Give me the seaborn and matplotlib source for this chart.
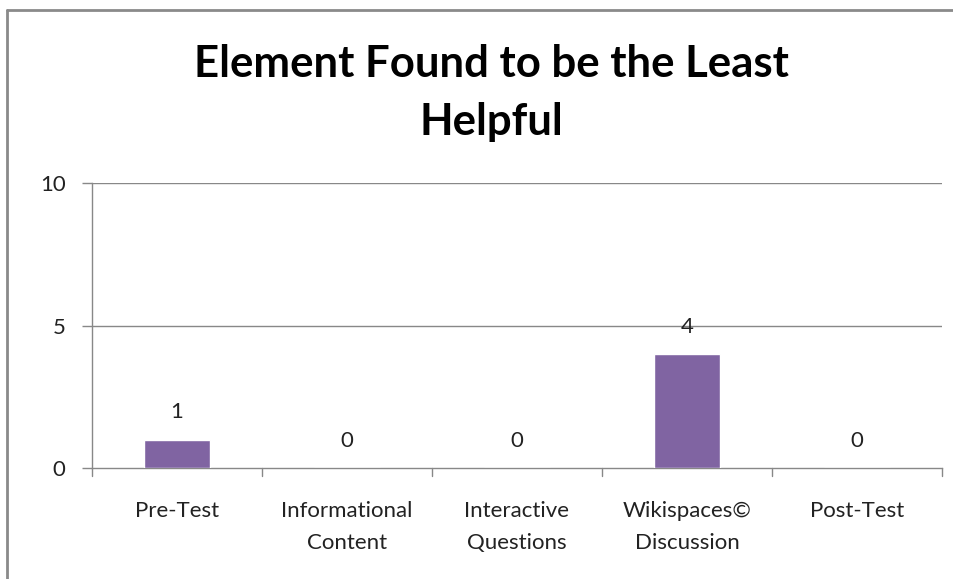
import matplotlib
matplotlib.use('Agg')
import matplotlib.pyplot as plt
import seaborn as sns
import pandas as pd
from matplotlib.lines import Line2D

categories = ['Pre-Test', 'Informational\nContent', 'Interactive\nQuestions',
              'Wikispaces©\nDiscussion', 'Post-Test']
counts = [1, 0, 0, 4, 0]
y_ticks = [0, 5, 10]

data = pd.DataFrame({'element': categories, 'count': counts})

sns.set_style('white')
plt.rcParams['font.family'] = ['Lato', 'DejaVu Sans']

fig = plt.figure(figsize=(9.54, 5.79), dpi=100)
ax = fig.add_axes([92 / 954, 1 - 468 / 579, 850 / 954, 285 / 579])

sns.barplot(x='element', y='count', data=data, color='#8064A2', width=0.39,
            saturation=1, ax=ax, edgecolor='white', linewidth=1, zorder=3)

ax.set_ylim(0, 10)
ax.set_xlim(-0.5, len(categories) - 0.5)
ax.set_yticks(y_ticks)
ax.set_yticklabels([str(t) for t in y_ticks], fontsize=16, color='#222222')
ax.set_xticks(range(len(categories)))
ax.set_xticklabels(categories, fontsize=16, color='#222222', linespacing=1.7)
ax.tick_params(axis='x', length=0, pad=24)
ax.tick_params(axis='y', length=7, color='#888888', width=1, pad=12, left=True)

# category boundary ticks
for b in [i - 0.5 for i in range(len(categories) + 1)]:
    ax.plot([b, b], [0, -0.28], color='#888888', lw=1, clip_on=False)

for t in y_ticks[1:]:
    ax.axhline(t, color='#888888', lw=1, zorder=1)

for s in ['top', 'right']:
    ax.spines[s].set_visible(False)
for s in ['left', 'bottom']:
    ax.spines[s].set_color('#888888')
    ax.spines[s].set_linewidth(1)
ax.set_xlabel('')
ax.set_ylabel('')

for i, v in enumerate(counts):
    ax.text(i, v + 0.95, str(v), ha='center', va='center', fontsize=16, color='#222222')

fig.text(491 / 954, 1 - 93 / 579, 'Element Found to be the Least\nHelpful',
         ha='center', va='center', fontsize=31.5, fontweight='bold',
         linespacing=1.55, color='black')

# outer chart frame (top and left only visible)
fig.add_artist(Line2D([7 / 954, 7 / 954], [0, 1 - 10 / 579], color='#8a8a8a', lw=2,
                      transform=fig.transFigure))
fig.add_artist(Line2D([7 / 954, 1], [1 - 10 / 579, 1 - 10 / 579], color='#8a8a8a', lw=2,
                      transform=fig.transFigure))

fig.savefig('out.png', dpi=100)
plt.close()
